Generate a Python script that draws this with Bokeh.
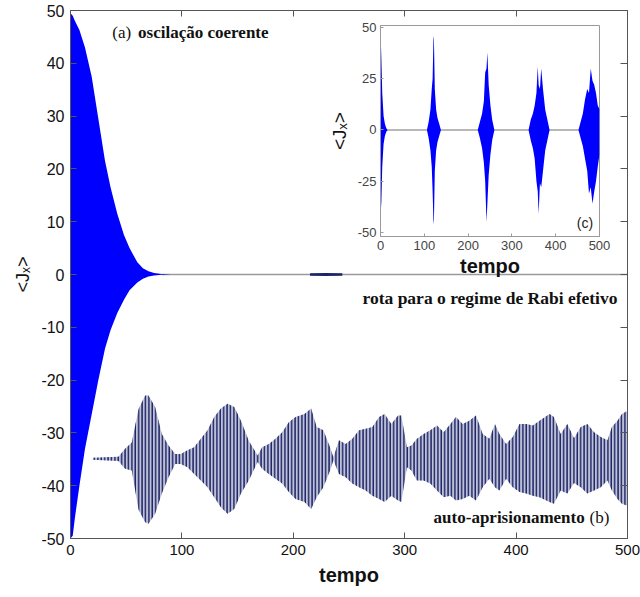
from bokeh.plotting import figure
from bokeh.models import Range1d, LinearAxis, Label, FixedTicker
from bokeh.layouts import column
from bokeh.embed import file_html
from bokeh.resources import INLINE

# ---------------- data ----------------
# (a) coherent oscillation: envelope of the blue decaying signal
a_t  = [0, 2, 4, 8, 13, 19, 25, 31, 36, 42, 48, 53, 60, 65, 70, 75, 82, 90]
a_up = [49.5, 49.0, 48.0, 46.3, 43.0, 37.5, 29.5, 21.5, 16.5, 11.5, 7.5, 5.0, 2.3, 1.2, 0.6, 0.3, 0.1, 0.0]
a_lo = [-50.0, -49.5, -46.0, -40.0, -33.0, -26.5, -20.0, -14.0, -10.5, -7.3, -4.8, -3.0, -1.5, -0.8, -0.4, -0.2, -0.05, 0.0]

# small partial revival of (a) near t = 230
a2_t  = [215, 229, 244]
a2_up = [0.25, 0.3, 0.25]
a2_lo = [-0.25, -0.3, -0.25]

# flat part of <Jx> after the collapse
z_t = [82, 500]
z_v = [0, 0]

# (b) self-trapping: envelope of the navy oscillation around -35
b_t = [20, 43, 49, 55, 61, 67, 70, 76, 82, 88, 94, 99, 105, 111, 117, 123, 129, 135,
       141, 147, 153, 160, 168, 172, 178, 184, 190, 196, 202, 210, 216, 221, 227, 233,
       236, 241, 247, 253, 259, 265, 271, 277, 282, 288, 294, 297, 302, 306, 311, 317,
       323, 329, 335, 341, 346, 352, 358, 364, 370, 376, 381, 385, 391, 397, 403, 409,
       415, 421, 430, 434, 440, 446, 452, 458, 464, 470, 476, 482, 486, 491, 495, 500]
b_up = [-34.7, -34.5, -33.0, -31.8, -25.5, -22.9, -22.9, -25.1, -30.2, -32.4, -34.0, -34.0,
        -33.3, -32.7, -31.1, -29.5, -27.0, -25.4, -24.5, -25.1, -27.7, -31.5, -34.3, -32.7,
        -32.1, -31.1, -29.9, -28.0, -27.0, -26.4, -25.4, -28.9, -29.5, -32.7, -34.6, -31.4,
        -32.1, -31.1, -29.5, -29.2, -28.9, -27.0, -26.4, -28.3, -26.7, -26.7, -32.7, -32.4,
        -31.1, -30.2, -29.5, -28.6, -29.9, -28.3, -27.0, -28.3, -27.7, -26.7, -30.2, -31.1,
        -28.3, -30.2, -32.1, -30.8, -28.3, -28.3, -28.6, -27.7, -26.4, -27.0, -30.2, -28.3,
        -31.0, -28.9, -28.3, -29.9, -30.8, -31.4, -28.9, -27.7, -26.4, -25.8]
b_lo = [-35.1, -35.3, -36.8, -37.1, -44.5, -46.9, -47.2, -45.3, -41.5, -38.4, -35.9, -35.9,
        -36.5, -37.8, -39.0, -40.3, -42.2, -44.1, -45.3, -44.4, -41.5, -39.0, -35.5, -36.8,
        -37.8, -38.7, -39.6, -41.2, -42.5, -43.1, -44.4, -42.2, -40.3, -37.1, -35.2, -37.8,
        -38.4, -39.6, -40.3, -40.9, -41.9, -42.5, -43.1, -41.9, -42.8, -43.1, -36.5, -37.1,
        -39.0, -39.0, -39.6, -40.9, -42.2, -41.9, -42.8, -42.5, -41.9, -42.8, -40.3, -38.7,
        -40.3, -40.9, -38.7, -40.3, -41.2, -41.5, -41.9, -42.2, -43.1, -43.4, -40.9, -41.5,
        -39.5, -40.3, -41.5, -40.9, -40.3, -39.0, -40.9, -42.5, -43.4, -43.8]

# (c) inset: collapses and revivals
r1_t  = [0, 2, 4, 7, 10, 13, 16]
r1_up = [49, 35, 18, 7, 3, 1, 0]
r1_lo = [-42, -35, -18, -7, -3, -1, 0]
r2_t  = [106, 110, 114, 117, 119, 121, 122, 124, 127, 130, 134, 138]
r2_up = [0, 4, 10, 20, 25, 46, 44, 20, 10, 6, 3, 0]
r2_lo = [0, -4, -10, -18, -30, -46, -44, -20, -10, -6, -3, 0]
r3_t  = [222, 227, 232, 236, 239, 242, 244, 247, 251, 255, 260]
r3_up = [0, 4, 8, 14, 28, 30, 38, 22, 12, 5, 0]
r3_lo = [0, -4, -9, -16, -25, -45, -36, -22, -12, -5, 0]
r4_t  = [338, 343, 348, 352, 356, 359, 361, 364, 367, 371, 376, 381, 386]
r4_up = [0, 5, 8, 12, 18, 31, 22, 20, 30, 20, 10, 5, 0]
r4_lo = [0, -5, -9, -14, -25, -30, -41, -26, -28, -20, -10, -5, 0]
r5_t  = [452, 457, 462, 467, 472, 476, 480, 484, 488, 492, 496, 500]
r5_up = [0, 4, 8, 15, 20, 18, 30, 24, 22, 18, 12, 10]
r5_lo = [0, -4, -8, -14, -20, -31, -28, -36, -30, -25, -18, -12]
zi_t = [0, 500]
zi_v = [0, 0]

x_ticks = [0, 100, 200, 300, 400, 500]
y_ticks = [-50, -40, -30, -20, -10, 0, 10, 20, 30, 40, 50]
yi_ticks = [-50, -25, 0, 25, 50]

Y_LABEL = "<J\u2093>"
X_LABEL = "tempo"

SANS = "Liberation Sans"
SERIF = "Liberation Serif"
BLUE = "#0000ff"
NAVY = "#1c2468"
AXC = "#555555"
TXT = "#111111"

# ---------------- main figure ----------------
p = figure(width=640, height=589, x_range=Range1d(0, 500), y_range=Range1d(-50, 50),
           output_backend="svg", toolbar_location=None,
           min_border_left=67, min_border_right=13, min_border_top=10, min_border_bottom=51,
           background_fill_color="white", border_fill_color="white",
           outline_line_color=AXC)
p.grid.visible = False

for ax in (p.xaxis, p.yaxis):
    ax.major_tick_in = 6
    ax.major_tick_out = 0
    ax.minor_tick_line_color = None
    ax.axis_line_color = AXC
    ax.major_tick_line_color = AXC
    ax.major_label_text_font = SANS
    ax.major_label_text_color = TXT
    ax.major_label_standoff = 6
    ax.axis_label_text_font = SANS
    ax.axis_label_text_color = TXT
p.xaxis.major_label_text_font_size = "15px"
p.yaxis.major_label_text_font_size = "16px"
p.xaxis.ticker = FixedTicker(ticks=x_ticks)
p.yaxis.ticker = FixedTicker(ticks=y_ticks)
p.yaxis.major_label_overrides = {t: str(t) for t in y_ticks}
p.xaxis.axis_label = X_LABEL
p.xaxis.axis_label_text_font_style = "bold"
p.xaxis.axis_label_text_font_size = "20px"
p.xaxis.axis_label_standoff = 6
p.yaxis.axis_label = Y_LABEL
p.yaxis.axis_label_text_font_style = "normal"
p.yaxis.axis_label_text_font_size = "18px"
p.yaxis.axis_label_standoff = 5

top_ax = LinearAxis(ticker=FixedTicker(ticks=x_ticks), major_tick_in=6, major_tick_out=0,
                    minor_tick_line_color=None, major_label_text_font_size="1px",
                    major_label_text_color=None,
                    major_label_standoff=0, axis_line_color=AXC, major_tick_line_color=AXC)
right_ax = LinearAxis(ticker=FixedTicker(ticks=y_ticks), major_tick_in=7, major_tick_out=0,
                      minor_tick_line_color=None, major_label_text_font_size="1px",
                      major_label_text_color=None,
                      major_label_standoff=0, axis_line_color=AXC, major_tick_line_color=AXC)
p.add_layout(top_ax, "above")
p.add_layout(right_ax, "right")

# signals
p.line(z_t, z_v, line_color="#9a9a9a", line_width=1.3)
p.varea(x=b_t, y1=b_up, y2=b_lo, fill_color="#bfc2d6",
        hatch_pattern="vertical_line", hatch_color=NAVY, hatch_scale=3.4, hatch_weight=1.5)
p.varea(x=a_t, y1=a_up, y2=a_lo, fill_color=BLUE)
p.varea(x=a2_t, y1=a2_up, y2=a2_lo, fill_color=NAVY)

# annotations
def lab(fig, x, y, text, size, font, style="normal", align="left", color=TXT):
    fig.add_layout(Label(x=x, y=y, text=text, text_font=font, text_font_size=size,
                         text_font_style=style, text_align=align, text_baseline="middle",
                         text_color=color))

lab(p, 54.5, 45.8, "(a)", "17px", SERIF, align="right")
lab(p, 60.7, 45.8, "oscilação coerente", "17px", SERIF, "bold")
lab(p, 491, -4.4, "rota para o regime de Rabi efetivo", "17.5px", SERIF, "bold", align="right")
lab(p, 461.6, -46.0, "auto-aprisionamento", "17px", SERIF, "bold", align="right")
lab(p, 466, -46.0, "(b)", "17px", SERIF)

# ---------------- inset (c) ----------------
ins = figure(width=302, height=265, x_range=Range1d(0, 500), y_range=Range1d(-52, 51),
             output_backend="svg", toolbar_location=None,
             min_border_left=70, min_border_right=7, min_border_top=11, min_border_bottom=42,
             background_fill_color="white", border_fill_alpha=0,
             outline_line_color="#9a9a9a")
ins.grid.visible = False
for ax in (ins.xaxis, ins.yaxis):
    ax.major_tick_in = 3
    ax.major_tick_out = 0
    ax.minor_tick_line_color = None
    ax.axis_line_color = "#9a9a9a"
    ax.major_tick_line_color = "#9a9a9a"
    ax.major_label_text_font = SANS
    ax.major_label_text_font_size = "13px"
    ax.major_label_text_color = "#444444"
    ax.major_label_standoff = 4
    ax.axis_label_text_font = SANS
    ax.axis_label_text_color = TXT
ins.xaxis.ticker = FixedTicker(ticks=x_ticks)
ins.yaxis.ticker = FixedTicker(ticks=yi_ticks)
ins.yaxis.major_label_overrides = {t: str(t) for t in yi_ticks}
ins.xaxis.axis_label = X_LABEL
ins.xaxis.axis_label_text_font_style = "bold"
ins.xaxis.axis_label_text_font_size = "20px"
ins.xaxis.axis_label_standoff = 2
ins.yaxis.axis_label = Y_LABEL
ins.yaxis.axis_label_text_font_style = "normal"
ins.yaxis.axis_label_text_font_size = "19px"
ins.yaxis.axis_label_standoff = 5

ins.line(zi_t, zi_v, line_color="#a0a0a0", line_width=1.3)
for rt, ru, rl in ((r1_t, r1_up, r1_lo), (r2_t, r2_up, r2_lo), (r3_t, r3_up, r3_lo),
                   (r4_t, r4_up, r4_lo), (r5_t, r5_up, r5_lo)):
    ins.varea(x=rt, y1=ru, y2=rl, fill_color=BLUE)

lab(ins, 466.7, -45.2, "(c)", "14px", SANS, align="center", color="#222222")

ins.styles = {"position": "absolute", "left": "310px", "top": "14px", "z-index": "2"}

layout = column(p, ins)
open("out.html", "w").write(file_html(layout, INLINE))
